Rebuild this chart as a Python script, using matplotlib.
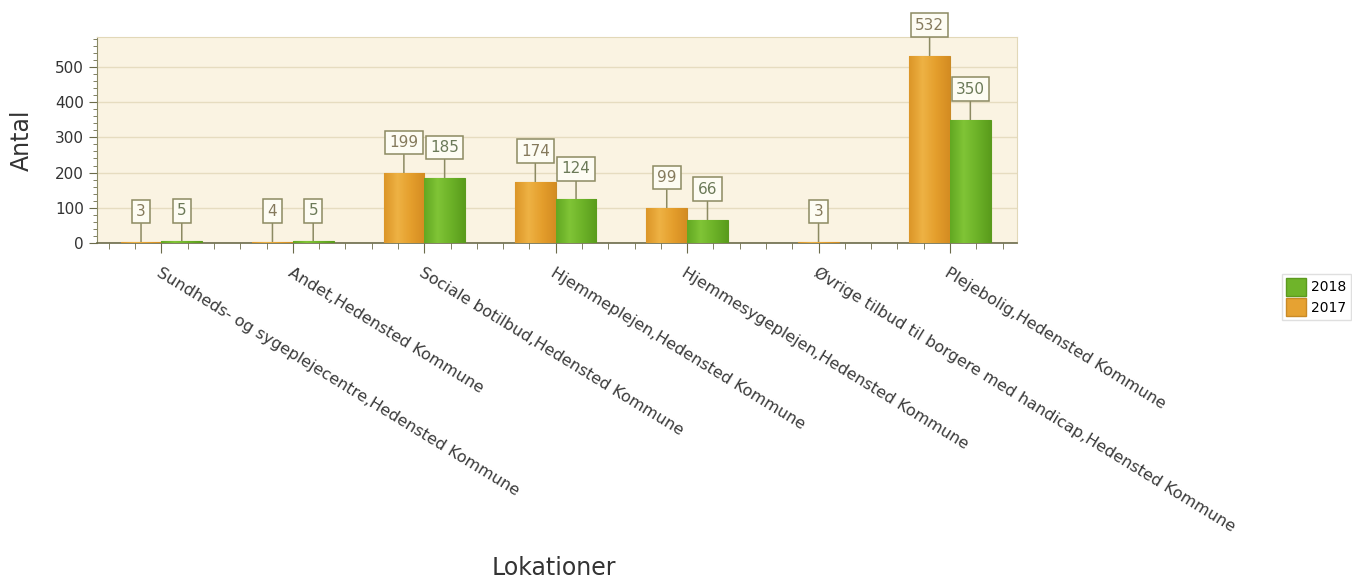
import numpy as np
import matplotlib
matplotlib.use("Agg")
import matplotlib.pyplot as plt
from matplotlib.colors import LinearSegmentedColormap
from matplotlib.patches import Patch
from matplotlib.ticker import MultipleLocator

# --- data ---
categories = [
    "Sundheds- og sygeplejecentre,Hedensted Kommune",
    "Andet,Hedensted Kommune",
    "Sociale botilbud,Hedensted Kommune",
    "Hjemmeplejen,Hedensted Kommune",
    "Hjemmesygeplejen,Hedensted Kommune",
    "Øvrige tilbud til borgere med handicap,Hedensted Kommune",
    "Plejebolig,Hedensted Kommune",
]
values_2017 = [3, 4, 199, 174, 99, 3, 532]
values_2018 = [5, 5, 185, 124, 66, None, 350]

c2017, e2017, t2017 = "#e6a232", "#c98a26", "#857a5c"
c2018, e2018, t2018 = "#6fb42a", "#5b9a1e", "#6b7a58"
grad2017 = LinearSegmentedColormap.from_list("g17", ["#dc9628", "#eeb244", "#e49e2c", "#d48c22"])
grad2018 = LinearSegmentedColormap.from_list("g18", ["#62a822", "#80c436", "#6cb228", "#5a9c1c"])

fig = plt.figure(figsize=(13.52, 5.84), dpi=100)
ax = fig.add_axes([97 / 1352, 1 - 243 / 584, 920 / 1352, 206 / 584])
ax.set_facecolor("#faf3e2")

w = 0.31
x = np.arange(len(categories))
ramp = np.linspace(0, 1, 64).reshape(1, -1)


def draw_bar(pos, val, color, edge, cmap):
    b = ax.bar(pos, val, w, color=color, edgecolor=edge, lw=0.8, zorder=3)[0]
    im = ax.imshow(ramp, cmap=cmap, aspect="auto", zorder=3.5,
                   extent=(pos - w / 2, pos + w / 2, 0, val))
    im.set_clip_path(b)


def label(xc, val, color):
    ax.annotate(str(val), xy=(xc, val), xytext=(0, 23), textcoords="offset pixels",
                ha="center", va="bottom", fontsize=11, color=color,
                bbox=dict(boxstyle="square,pad=0.28", fc="#fdfcf3", ec="#8c8a62", lw=1.1),
                arrowprops=dict(arrowstyle="-", color="#8c8a62", lw=1.1,
                                shrinkA=0, shrinkB=0))


for i in x:
    v17, v18 = values_2017[i], values_2018[i]
    if v17 is not None and v18 is not None:
        pos17, pos18 = i - w / 2, i + w / 2
    else:
        pos17 = pos18 = i
    if v17 is not None:
        draw_bar(pos17, v17, c2017, e2017, grad2017)
        label(pos17, v17, t2017)
    if v18 is not None:
        draw_bar(pos18, v18, c2018, e2018, grad2018)
        label(pos18, v18, t2018)

ax.set_xlim(-0.49, 6.51)
ax.set_ylim(0, 585)
ax.yaxis.set_major_locator(MultipleLocator(100))
ax.yaxis.set_minor_locator(MultipleLocator(20))
ax.grid(axis="y", color="#e6dcc0", lw=1.0, zorder=0)
ax.set_axisbelow(True)

ax.set_xticks(x)
ax.set_xticklabels(categories, rotation=-31.5, ha="left", va="top",
                   rotation_mode="anchor", fontsize=11.5, color="#3a3a3a")
ax.xaxis.set_minor_locator(MultipleLocator(0.2))
ax.tick_params(axis="x", which="major", length=7, color="#6b6b4a", pad=9)
ax.tick_params(axis="x", which="minor", length=4, color="#6b6b4a")
ax.tick_params(axis="y", which="major", length=6, color="#6b6b4a", labelsize=11,
               labelcolor="#333333")
ax.tick_params(axis="y", which="minor", length=3, color="#6b6b4a")

for s in ["top", "right"]:
    ax.spines[s].set_color("#e2d8b8")
ax.spines["left"].set_color("#8a8a66")
ax.spines["bottom"].set_color("#6b6b4a")
ax.spines["bottom"].set_linewidth(1.2)

fig.text(22 / 1352, 1 - 140 / 584, "Antal", fontsize=17, color="#333333",
         rotation=90, ha="center", va="center")
fig.text(554 / 1352, 1 - 568 / 584, "Lokationer", fontsize=17, color="#333333",
         ha="center", va="center")

handles = [Patch(fc=c2018, ec=e2018, label="2018"),
           Patch(fc=c2017, ec=e2017, label="2017")]
fig.legend(handles=handles, loc="center right", bbox_to_anchor=(1.0, 1 - 297 / 584),
           fontsize=10, frameon=True, fancybox=False, edgecolor="#d8d8d8",
           handlelength=1.4, handleheight=1.6, borderpad=0.3, labelspacing=0.2,
           handletextpad=0.4, borderaxespad=0.1)

fig.savefig("out.png", dpi=100)
